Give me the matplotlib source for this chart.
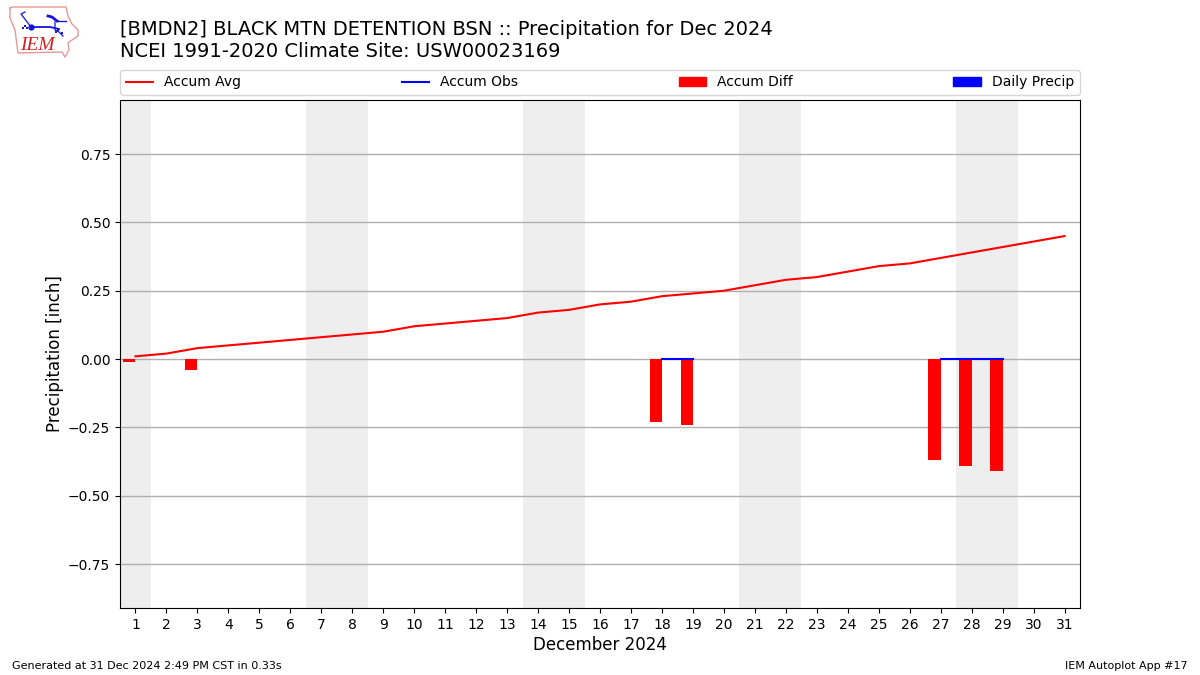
import numpy as np
import matplotlib
matplotlib.use("Agg")
import matplotlib.pyplot as plt
from matplotlib.patches import Patch
from matplotlib.lines import Line2D

days = list(range(1, 32))
accum_avg = [0.01, 0.02, 0.04, 0.05, 0.06, 0.07, 0.08, 0.09, 0.10, 0.12, 0.13,
             0.14, 0.15, 0.17, 0.18, 0.20, 0.21, 0.23, 0.24, 0.25, 0.27, 0.29,
             0.30, 0.32, 0.34, 0.35, 0.37, 0.39, 0.41, 0.43, 0.45]
obs_days = [1, 3, 18, 19, 27, 28, 29]
obs_accum = [0.0, 0.0, 0.0, 0.0, 0.0, 0.0, 0.0]
diff_values = [-0.01, -0.04, -0.23, -0.24, -0.37, -0.39, -0.41]
daily_precip = [0.0, 0.0, 0.0, 0.0, 0.0, 0.0, 0.0]
weekends = [(0.5, 1.5), (6.5, 8.5), (13.5, 15.5), (20.5, 22.5), (27.5, 29.5)]
yticks = [-0.75, -0.50, -0.25, 0.0, 0.25, 0.50, 0.75]
title = ("[BMDN2] BLACK MTN DETENTION BSN :: Precipitation for Dec 2024\n"
         "NCEI 1991-2020 Climate Site: USW00023169")

W, H = 1200, 675
fig = plt.figure(figsize=(12, 6.75), dpi=100)
ax = fig.add_axes([120 / W, 1 - 608 / H, 960 / W, 508 / H])

for a, b in weekends:
    ax.axvspan(a, b, color="#eeeeee", lw=0, zorder=0)
ax.grid(True, axis="y", color="#b0b0b0", lw=1, zorder=1)
ax.set_axisbelow(True)

ax.bar(obs_days, daily_precip, width=0.4, align="edge", color="b", zorder=2)
ax.bar(obs_days, diff_values, width=-0.4, align="edge", color="r", zorder=2)
ax.plot(days, accum_avg, color="r", lw=1.5, zorder=3)

# accumulated observation is only connected where consecutive days exist
obs_full = np.full(len(days), np.nan)
for d, v in zip(obs_days, obs_accum):
    obs_full[d - 1] = v
ax.plot(days, obs_full, color="b", lw=1.5, zorder=3)

ax.set_xlim(0.5, 31.5)
ax.set_ylim(-0.911, 0.948)
ax.set_xticks(days)
ax.set_yticks(yticks)
ax.set_yticklabels([f"{t:.2f}".replace("-", "\u2212") for t in yticks])
ax.tick_params(labelsize=10)
ax.set_xlabel("December 2024", fontsize=12, labelpad=3)
ax.set_ylabel("Precipitation [inch]", fontsize=12, labelpad=3.2)

handles = [Line2D([], [], color="r", lw=1.5),
           Line2D([], [], color="b", lw=1.5),
           Patch(color="r"), Patch(color="b")]
labels = ["Accum Avg", "Accum Obs", "Accum Diff", "Daily Precip"]
ax.legend(handles, labels, ncol=4, mode="expand", loc="lower left",
          bbox_to_anchor=(0, 1 + 5 / 508, 1, 0.04), borderaxespad=0, fontsize=10)

fig.text(120 / W, 1 - 61 / H, title, fontsize=14, ha="left", va="bottom",
         linespacing=1.18)
fig.text(12 / W, 1 - 671 / H, "Generated at 31 Dec 2024 2:49 PM CST in 0.33s",
         fontsize=8, ha="left", va="bottom")
fig.text(1188 / W, 1 - 671 / H, "IEM Autoplot App #17",
         fontsize=8, ha="right", va="bottom")

# IEM logo, drawn in pixel coordinates of the figure
logo = fig.add_axes([0, 0, 1, 1], facecolor="none", zorder=5)
logo.set_xlim(0, W)
logo.set_ylim(H, 0)
logo.axis("off")
outline_x = [10, 13, 66, 68, 72, 78, 78, 72, 68, 69, 65, 62, 18, 16, 15, 10, 10]
outline_y = [8, 7, 7, 16, 24, 30, 36, 40, 43, 50, 57, 52, 53, 38, 30, 18, 8]
logo.plot(outline_x, outline_y, color="#e39a9a", lw=1)
logo.plot([31, 50, 59], [27, 27, 29], color="#1515d8", lw=1.3)
logo.plot([25, 21, 31], [12, 14, 27], color="#1515d8", lw=0.9)
logo.plot([48, 52, 57], [16, 17, 21], color="#1515d8", lw=2)
logo.plot([57, 66], [21, 21], color="#1515d8", lw=1)
logo.plot([55, 55, 59, 63], [22, 30, 32, 36], color="#1515d8", lw=0.9)
logo.plot([31], [27], "o", color="#1515d8", ms=4.5, mew=0)
logo.plot([23, 25, 27, 56, 58, 62], [28, 26, 28, 32, 30, 33], "s",
          color="#1515d8", ms=1.5, mew=0, ls="none")
logo.text(37.5, 46, "IEM", color="#d02020", fontsize=14, style="italic",
          family="Liberation Serif", ha="center", va="center")

fig.savefig("out.png", dpi=100)
